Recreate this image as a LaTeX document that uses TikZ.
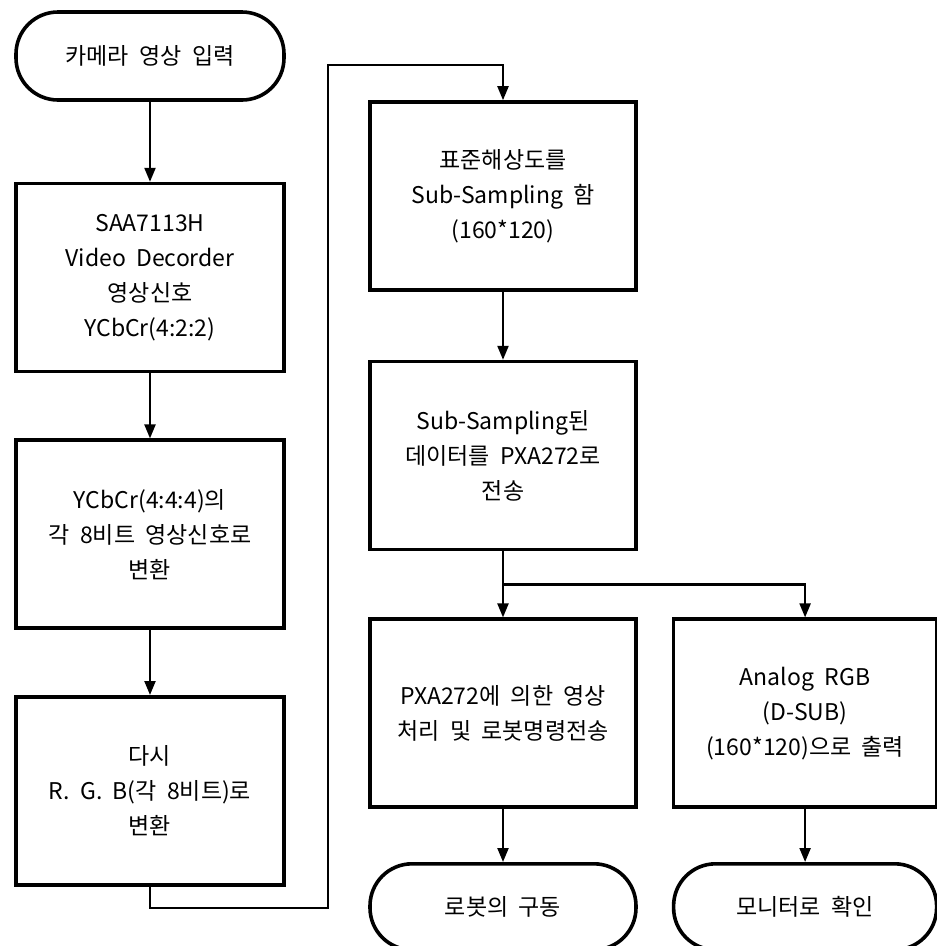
\documentclass[tikz,border=0pt]{standalone}
\usepackage{fontspec}
\setmainfont{Noto Sans CJK KR}[WordSpace=2]
\usepackage{tikz}
\usetikzlibrary{positioning,arrows.meta,calc}

\begin{document}
\begin{tikzpicture}[x=1pt,y=-1pt,
  font=\fontsize{23}{35}\selectfont,node distance=65pt,
  box/.style={draw,line width=3.6pt,minimum width=268pt,minimum height=188pt,align=center,inner sep=4pt},
  term/.style={draw,line width=3.6pt,rounded corners=42pt,minimum width=268pt,minimum height=88pt,align=center},
  line/.style={line width=2.2pt},
  arr/.style={line width=2.2pt,-{Triangle[length=14pt,width=11pt]}}]
\useasboundingbox (0,0) rectangle (937,946);
% left column
\node[term] (cam) at (150,56) {카메라 영상 입력};
\node[box,below=80pt of cam] (dec) {SAA7113H\\Video Decorder\\영상신호\\YCbCr(4:2:2)};
\node[box,below=of dec] (cvt) {YCbCr(4:4:4)의\\각 8비트 영상신호로\\변환};
\node[box,below=of cvt] (rgb) {다시\\R. G. B(각 8비트)로\\변환};
% middle and right column
\node[box,minimum width=266pt] (sub) at (503,196) {표준해상도를\\Sub-Sampling 함\\(160*120)};
\node[box,minimum width=266pt,below=68pt of sub] (send) {Sub-Sampling된\\데이터를 PXA272로\\전송};
\node[box,minimum width=266pt,below=66pt of send] (proc) {PXA272에 의한 영상\\처리 및 로봇명령전송};
\node[box,minimum width=263pt,right=34pt of proc] (mon) {Analog RGB\\(D-SUB)\\(160*120)으로 출력};
\node[term,minimum width=266pt,minimum height=86pt,below=53pt of proc] (drive) {로봇의 구동};
\node[term,minimum width=263pt,minimum height=86pt,below=53pt of mon] (check) {모니터로 확인};
% connectors
\draw[arr] (cam) -- (dec);
\draw[arr] (dec) -- (cvt);
\draw[arr] (cvt) -- (rgb);
\coordinate (loopdown) at (328,908);
\draw[arr] (rgb.south) |- (loopdown) |- ($(sub.north)+(0,-35)$) -- (sub.north);
\draw[arr] (sub) -- (send);
\draw[line] (send.south) -- ++(0,33) coordinate (fork);
\draw[arr] (fork) -- (proc.north);
\draw[arr] (fork) -| (mon.north);
\draw[arr] (proc) -- (drive);
\draw[arr] (mon) -- (check);
\end{tikzpicture}
\end{document}
